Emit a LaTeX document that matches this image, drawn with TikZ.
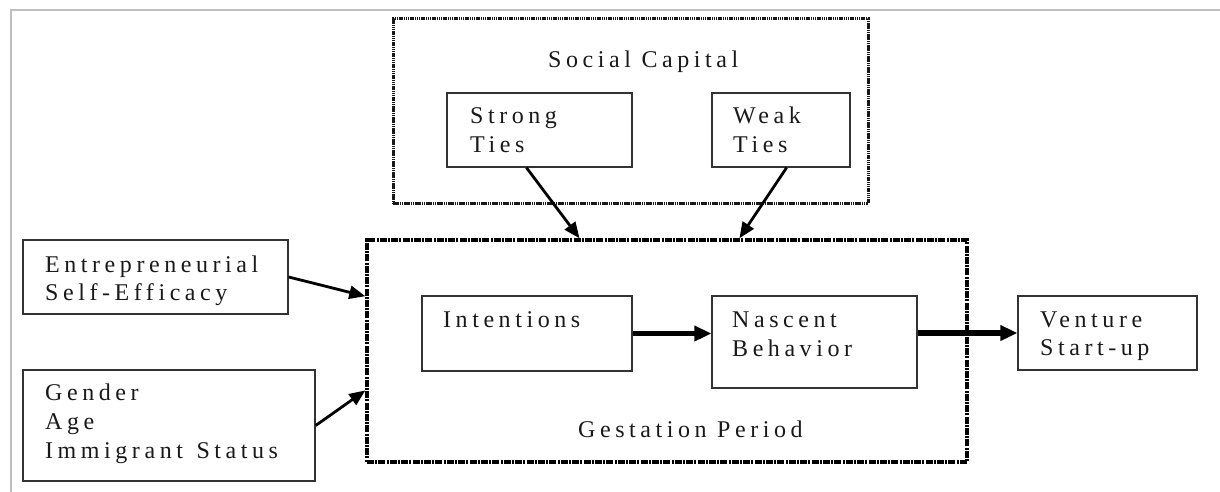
\documentclass[tikz,border=0pt]{standalone}
\usepackage{fontspec}
\setmainfont{Liberation Serif}[LetterSpace=19]
\usetikzlibrary{arrows.meta,calc}
\begin{document}
\begin{tikzpicture}[x=1pt,y=-1pt,
  box/.style={draw=black!80, line width=1.4pt, inner sep=0pt},
  dotbox/.style={draw=black!90, line width=3pt, dash pattern=on 1.5pt off 0.7pt, inner sep=0pt},
  dashbox/.style={draw=black, line width=3.4pt, dash pattern=on 7pt off 1.2pt on 2pt off 1.2pt, inner sep=0pt},
  lbl/.style={anchor=base west, inner sep=0pt, font=\fontsize{24}{29}\selectfont, text=black!90},
  arr/.style={line width=2.8pt, black, -{Triangle[length=16pt,width=13pt]}},
  tarr/.style={line width=5.5pt, black, -{Triangle[length=17pt,width=15pt]}},
  frame/.style={draw=black!25, line width=2pt}]
\useasboundingbox (0,0) rectangle (1220,492);
% outer frame
\coordinate (fr1) at (1220,10);
\coordinate (fr2) at (11,10);
\coordinate (fr3) at (11,492);
\draw[frame] (fr1) -- (fr2) -- (fr3);
% boxes
\node[dotbox, minimum width=475pt, minimum height=184pt] (soc) at (630.5,111) {};
\node[box, minimum width=185pt, minimum height=74pt] (strong) at (539.5,130) {};
\node[box, minimum width=138pt, minimum height=74pt] (weak) at (781,130) {};
\node[dashbox, minimum width=600pt, minimum height=222pt] (gest) at (667,351) {};
\node[box, minimum width=265pt, minimum height=74pt] (ent) at (155.5,277) {};
\node[box, minimum width=292pt, minimum height=111pt] (gen) at (169,425.5) {};
\node[box, minimum width=210pt, minimum height=75pt] (int) at (527,333.5) {};
\node[box, minimum width=205pt, minimum height=92pt] (nas) at (814.5,342) {};
\node[box, minimum width=179pt, minimum height=74pt] (ven) at (1107.5,333) {};
% texts
\node[lbl] (tsoc) at (548,68) {Social Capital};
\node[lbl] (tstr1) at (470,124) {Strong};
\node[lbl] (tstr2) at (470,153) {Ties};
\node[lbl] (twk1) at (733,124) {Weak};
\node[lbl] (twk2) at (733,153) {Ties};
\node[lbl] (tent1) at (45,272) {Entrepreneurial};
\node[lbl] (tent2) at (45,300) {Self-Efficacy};
\node[lbl] (tgen1) at (45,400) {Gender};
\node[lbl] (tgen2) at (45,429) {Age};
\node[lbl] (tgen3) at (45,458) {Immigrant\hspace{3pt} Status};
\node[lbl] (tint) at (443,327) {Intentions};
\node[lbl] (tnas1) at (732,327) {Nascent};
\node[lbl] (tnas2) at (732,356) {Behavior};
\node[lbl] (tven1) at (1040,327) {Venture};
\node[lbl] (tven2) at (1040,355) {Start-up};
\node[lbl] (tgest) at (578,437) {Gestation Period};
% arrows
\draw[arr] ($(strong.south west)!0.43!(strong.south east)$) -- ($(gest.north west)!0.355!(gest.north east)$);
\draw[arr] ($(weak.south west)!0.54!(weak.south east)$) -- ($(gest.north west)!0.62!(gest.north east)$);
\draw[arr] (ent.east) -- ($(gest.north west)!0.257!(gest.south west)$);
\draw[arr] (gen.east) -- ($(gest.north west)!0.675!(gest.south west)$);
\draw[tarr] (int.east) -- (int.east -| nas.west);
\draw[tarr] (nas.east |- ven.west) -- (ven.west);
\end{tikzpicture}
\end{document}
